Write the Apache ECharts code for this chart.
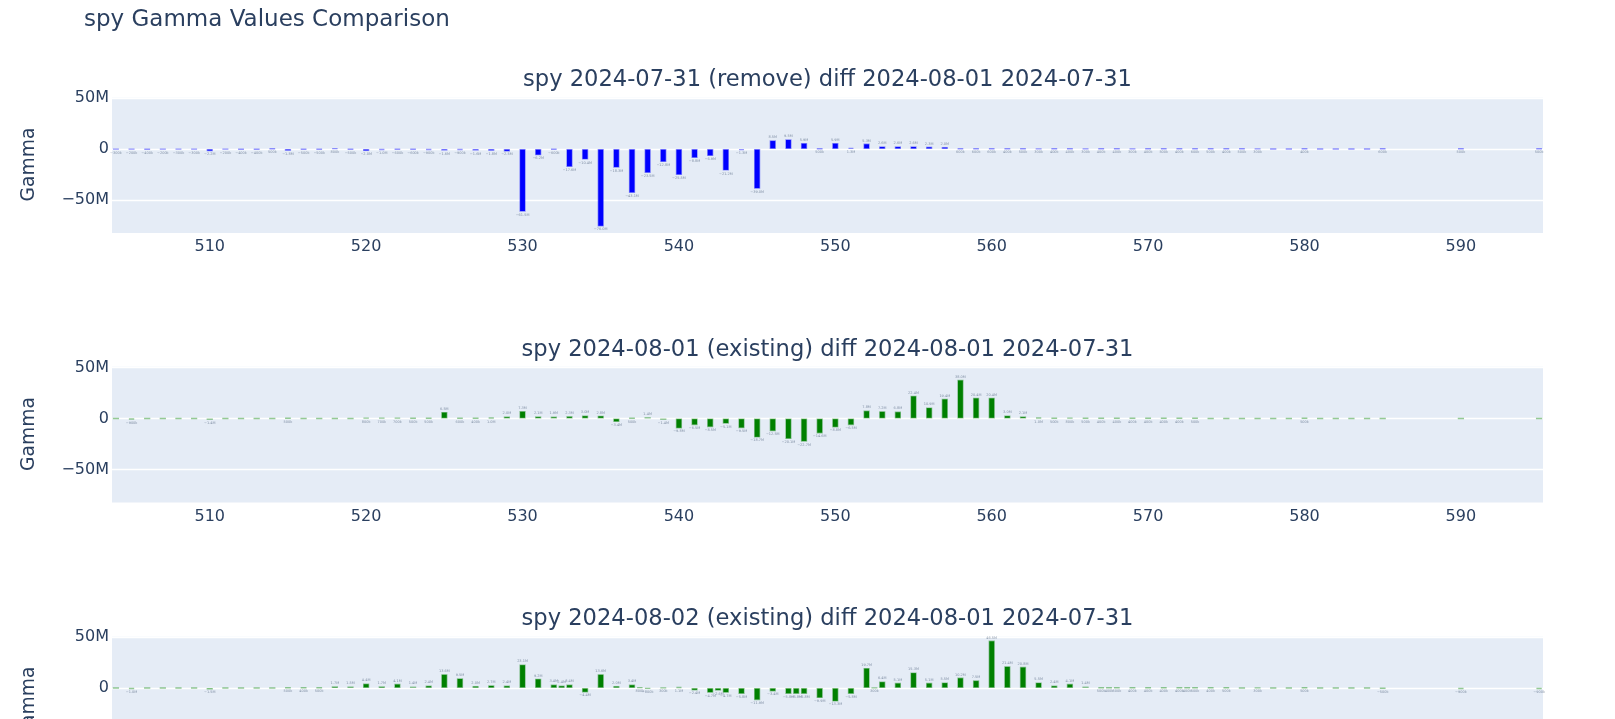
<!DOCTYPE html>
<html><head><meta charset="utf-8">
<script src="https://cdn.jsdelivr.net/npm/echarts@6/dist/echarts.min.js"></script>
<style>html,body{margin:0;padding:0;overflow:hidden;background:#fff}#c{width:1615px;height:900px}</style>
</head><body><div id="c"></div><script>
// ---- data (values in millions) ----
const mainTitle = 'spy Gamma Values Comparison';
const panelTitles = [
  'spy 2024-07-31 (remove) diff 2024-08-01 2024-07-31',
  'spy 2024-08-01 (existing) diff 2024-08-01 2024-07-31',
  'spy 2024-08-02 (existing) diff 2024-08-01 2024-07-31'
];
const xTicks = [510, 520, 530, 540, 550, 560, 570, 580, 590];
const yTicks = [-50, 0, 50];

const strikesA = [504,505,506,507,508,509,510,511,512,513,
  514,515,516,517,518,519,520,521,522,523,
  524,525,526,527,528,529,530,531,532,533,
  534,535,536,537,538,539,540,541,542,543,
  544,545,546,547,548,549,550,551,552,553,
  554,555,556,557,558,559,560,561,562,563,
  564,565,566,567,568,569,570,571,572,573,
  574,575,576,577,578,579,580,581,582,583,
  584,585,590,595];

const gammaRemove0731 = [-0.3,-0.2,-0.4,-0.2,-0.3,-0.3,-2.2,-0.2,-0.4,-0.4,
  0.5,-1.8,-0.5,-0.5,0.8,-0.5,-2.0,-1.0,-0.6,-0.6,
  -0.9,-1.6,-0.9,-1.6,-1.8,-2.5,-61.5,-6.2,-0.6,-17.6,
  -10.4,-76.0,-18.3,-43.1,-23.5,-12.8,-25.5,-8.8,-6.9,-21.2,
  -1.3,-39.0,8.5,9.5,5.9,0.5,5.9,1.3,5.3,2.6,
  2.6,2.6,2.3,2.0,0.6,0.6,0.6,0.4,0.5,0.3,
  0.4,0.4,0.3,0.4,0.4,0.3,0.4,0.5,0.4,0.6,
  0.5,0.4,0.5,0.3,0,0,0.4,0,0,0,
  0,0.6,0.5,0.5];

const gammaExisting0801 = [0,-0.9,0,0,0,0,-1.4,0,0,0,
  0,0.5,0,0,0,0,0.8,0.7,0.7,0.5,
  0.5,6.5,0.6,0.4,1.0,2.0,7.3,2.1,1.9,2.3,
  3.0,2.8,-3.4,0.5,1.4,-1.4,-9.8,-6.5,-8.5,-5.1,
  -9.5,-18.7,-12.5,-20.1,-22.7,-14.6,-8.8,-6.5,7.8,7.2,
  6.8,22.4,10.9,19.4,38.0,20.4,20.4,3.0,2.1,1.0,
  0.5,0.8,0.5,0.4,0.4,0.4,0.4,0.4,0.4,0.5,
  0,0,0,0,0,0,0.5,0,0,0,
  0,0,0,0];

const strikesB = [504,505,506,507,508,509,510,511,512,513,
  514,515,516,517,518,519,520,521,522,523,
  524,525,526,527,528,529,530,531,532,532.5,
  533,534,535,536,537,537.5,538,539,540,541,
  542,542.5,543,544,545,546,547,547.5,548,549,
  550,551,552,552.5,553,554,555,556,557,558,
  559,560,561,562,563,564,565,566,567,567.5,
  568,569,570,571,572,572.5,573,574,575,576,
  577,578,579,580,581,582,583,584,585,590,595];

const gammaExisting0802 = [0,-1.0,0,0,0,0,-1.5,0,0,0,
  0,0.5,0.4,0.5,1.7,1.5,4.4,1.7,4.1,1.4,
  2.4,13.6,9.5,2.0,2.7,2.4,23.1,9.2,3.4,2.4,
  3.4,-4.4,13.6,2.0,3.4,0.8,-0.8,0.3,1.1,-2.4,
  -4.7,-2.6,-4.7,-5.8,-11.9,-3.4,-5.8,-5.8,-5.8,-9.9,
  -13.3,-5.8,19.7,0.3,6.4,5.1,15.3,5.1,5.5,10.2,
  7.5,46.5,21.4,20.8,5.5,2.4,4.1,1.4,0.5,0.4,
  0.5,0.4,0.4,0.4,0.4,0.4,0.5,0.4,0.5,0,
  0.3,0,0,0.5,0,0,0,0,-0.5,-0.9,-0.9];

const panels = [
  {strikes: strikesA, values: gammaRemove0731, color: '#0000ff', border: 'rgba(0,0,255,0.42)'},
  {strikes: strikesA, values: gammaExisting0801, color: '#008000', border: 'rgba(0,128,0,0.42)'},
  {strikes: strikesB, values: gammaExisting0802, color: '#008000', border: 'rgba(0,128,0,0.42)'}
];

// ---- layout ----
const FONT = 'DejaVu Sans';
const TXT = '#2a3f5f';
const gridTops = [96, 365.5, 635];
const gridH = 137;
const titleTops = [69, 338.5, 608];

function fmtLabel(v) {
  if (v === 0) return '';
  const a = Math.abs(v);
  const s = a >= 1 ? a.toFixed(1) + 'M' : Math.round(a * 1000) + 'k';
  return (v < 0 ? '\u2212' : '') + s;
}
function fmtAxis(v) {
  if (v === 0) return '0';
  return (v < 0 ? '\u2212' : '') + Math.abs(v) + 'M';
}

const chart = echarts.init(document.getElementById('c'), null, {renderer: 'canvas'});
const title = [{
  text: mainTitle, left: 84, top: 8.5, padding: 0,
  textStyle: {fontFamily: FONT, fontSize: 23, fontWeight: 'normal', color: TXT}
}];
panelTitles.forEach((t, i) => title.push({
  text: t, left: 827.5, textAlign: 'center', top: titleTops[i], padding: 0,
  textStyle: {fontFamily: FONT, fontSize: 22.6, fontWeight: 'normal', color: TXT}
}));

const grid = [], xAxis = [], yAxis = [], series = [];
panels.forEach((p, i) => {
  grid.push({left: 112, right: 72, top: gridTops[i], height: gridH, show: true,
    backgroundColor: '#E5ECF6', borderWidth: 0, z: 0});
  xAxis.push({
    gridIndex: i, type: 'value', min: 503.75, max: 595.25, position: 'bottom',
    minInterval: xTicks[1] - xTicks[0], maxInterval: xTicks[1] - xTicks[0], splitNumber: xTicks.length,
    axisLine: {show: false}, axisTick: {show: false}, splitLine: {show: false},
    axisLabel: {margin: 6, fontFamily: FONT, fontSize: 16, color: TXT,
      showMinLabel: false, showMaxLabel: false,
      formatter: v => xTicks.includes(v) ? String(v) : ''},
    z: 1
  });
  xAxis.push({
    gridIndex: i, type: 'value', min: 503.75, max: 595.25,
    axisLine: {show: true, onZero: true, lineStyle: {color: '#ffffff', width: 2.7}},
    axisTick: {show: false}, axisLabel: {show: false}, splitLine: {show: false},
    z: 1
  });
  yAxis.push({
    gridIndex: i, type: 'value', min: -82.4, max: 52,
    minInterval: yTicks[1] - yTicks[0], maxInterval: yTicks[1] - yTicks[0], splitNumber: 3,
    axisLine: {show: false}, axisTick: {show: false},
    splitLine: {show: true, showMinLine: false, showMaxLine: false,
      lineStyle: {color: '#ffffff', width: 1.3}},
    axisLabel: {margin: 3, fontFamily: FONT, fontSize: 16, color: TXT,
      padding: [3, 0, 0, 0],
      showMinLabel: false, showMaxLabel: false,
      formatter: v => yTicks.includes(v) ? fmtAxis(v) : ''},
    name: 'Gamma', nameLocation: 'middle', nameGap: 73, nameRotate: 90,
    nameTextStyle: {fontFamily: FONT, fontSize: 18.7, color: TXT},
    z: 1
  });
  series.push({
    type: 'bar', xAxisIndex: i * 2, yAxisIndex: i, z: 2,
    barWidth: 6.26,
    data: p.strikes.map((s, k) => [s, p.values[k]]),
    itemStyle: {color: p.color, borderColor: p.border, borderWidth: 1.4},
    label: {show: true, position: 'outside', distance: 1, fontFamily: FONT, fontSize: 3.5,
      color: 'rgba(42,63,95,0.55)', formatter: q => fmtLabel(q.value[1])},
    emphasis: {disabled: true}
  });
});

chart.setOption({
  animation: false,
  backgroundColor: '#ffffff',
  textStyle: {fontFamily: FONT, color: TXT},
  title, grid, xAxis, yAxis, series
});
</script></body></html>
